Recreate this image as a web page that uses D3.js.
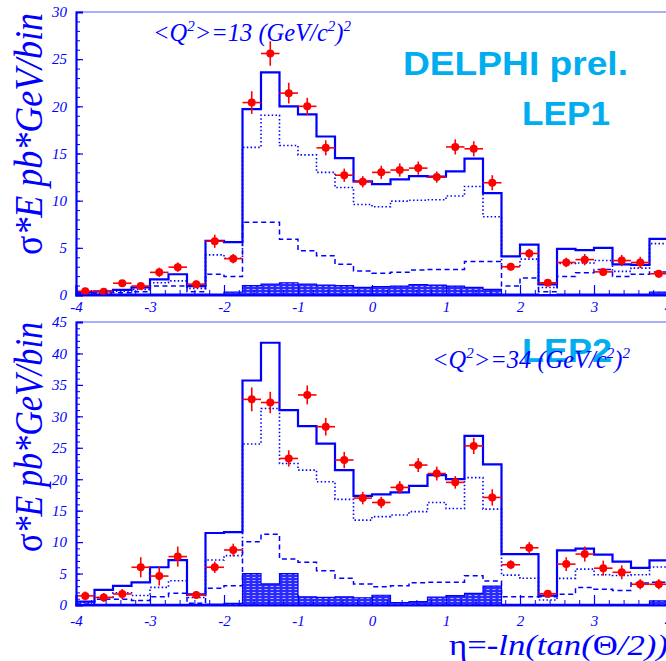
<!DOCTYPE html>
<html>
<head>
<meta charset="utf-8">
<script src="https://cdn.jsdelivr.net/npm/d3@7/dist/d3.min.js"></script>
<style>
  html, body { margin: 0; padding: 0; background: #fff; }
  svg { display: block; }
</style>
</head>
<body>
<svg id="chart" width="666" height="661"></svg>
<script>
// Pseudorapidity bin edges (0.25 wide, -4 .. 4)
const etaEdges = [-4, -3.75, -3.5, -3.25, -3, -2.75, -2.5, -2.25, -2, -1.75, -1.5, -1.25, -1, -0.75, -0.5, -0.25,
                  0, 0.25, 0.5, 0.75, 1, 1.25, 1.5, 1.75, 2, 2.25, 2.5, 2.75, 3, 3.25, 3.5, 3.75, 4];

// LEP1, <Q^2> = 13 (GeV/c^2)^2
const lep1Data = [0.4, 0.35, 1.25, 0.95, 2.4, 2.95, 1.15, 5.7, 3.85, 20.4, 25.6, 21.4, 20.0, 15.6, 12.7, 12.0,
                  13.0, 13.25, 13.45, 12.5, 15.7, 15.5, 11.9, 3.0, 4.4, 1.3, 3.45, 3.75, 2.45, 3.65, 3.45, 2.25];
const lep1Err  = [0.3, 0.3, 0.3, 0.3, 0.5, 0.5, 0.4, 0.7, 0.5, 1.2, 1.3, 1.1, 0.9, 0.8, 0.7, 0.6,
                  0.7, 0.7, 0.7, 0.6, 0.8, 0.8, 0.8, 0.4, 0.5, 0.3, 0.5, 0.6, 0.4, 0.6, 0.6, 0.4];
const lep1Total  = [0.3, 0.4, 0.55, 0.8, 1.65, 2.2, 0.95, 5.75, 5.6, 19.7, 23.6, 20.0, 19.15, 16.8, 14.5, 12.05,
                    11.75, 12.25, 12.6, 12.55, 13.1, 14.45, 10.8, 4.1, 5.35, 1.13, 4.9, 4.75, 5.0, 3.25, 3.2, 5.95];
const lep1Dotted = [0.2, 0.2, 0.4, 0.6, 1.3, 1.5, 0.7, 4.25, 3.9, 15.65, 19.05, 15.85, 14.85, 13.0, 11.4, 9.6,
                    9.35, 9.95, 10.05, 10.1, 10.5, 11.5, 8.3, 3.0, 3.8, 0.8, 3.35, 3.4, 3.65, 2.5, 2.85, 5.45];
const lep1Dashed = [0.2, 0.25, 0.25, 0.35, 0.95, 0.95, 0.35, 2.2, 1.95, 7.7, 7.7, 5.9, 4.7, 4.15, 3.25, 2.55,
                    2.3, 2.4, 2.65, 2.7, 2.7, 3.55, 3.55, 0.95, 1.8, 0.35, 1.95, 2.35, 2.7, 1.95, 2.2, 2.45];
const lep1Hatched = [0.1, 0.1, 0.1, 0.1, 0.1, 0.1, 0.1, 0.1, 0.3, 1.0, 1.15, 1.3, 1.15, 1.05, 1.0, 0.8,
                     0.9, 0.95, 1.1, 1.05, 0.95, 0.8, 0.6, 0.1, 0.1, 0.05, 0.1, 0.1, 0.1, 0.1, 0.1, 0.3];

// LEP2, <Q^2> = 34 (GeV/c^2)^2
const lep2Data = [1.45, 1.2, 1.75, 6.0, 4.6, 7.7, 1.6, 6.0, 8.75, 32.7, 32.2, 23.3, 33.4, 28.35, 23.05, 17.0,
                  16.3, 18.7, 22.25, 20.9, 19.5, 25.3, 17.1, 6.4, 9.1, 1.8, 6.5, 8.1, 5.85, 5.2, 3.3, 3.3];
const lep2Err  = [0.7, 0.7, 0.8, 1.6, 1.5, 1.6, 0.6, 0.9, 1.0, 1.9, 1.7, 1.3, 1.5, 1.4, 1.3, 1.0,
                  0.9, 1.0, 1.1, 1.1, 1.0, 1.3, 1.3, 0.7, 0.9, 0.4, 1.1, 1.2, 1.2, 1.1, 0.8, 0.8];
const lep2Total  = [0.55, 2.4, 3.05, 3.6, 6.0, 7.15, 1.7, 11.45, 11.6, 35.7, 41.7, 31.0, 28.45, 25.65, 21.45, 17.35,
                    17.6, 17.9, 18.95, 20.65, 20.0, 26.9, 22.35, 8.1, 8.1, 1.5, 8.7, 8.95, 8.0, 6.9, 5.9, 7.1];
const lep2Dotted = [0.4, 1.2, 1.95, 1.5, 2.8, 3.85, 1.2, 7.15, 7.85, 25.6, 31.25, 22.5, 21.45, 19.6, 16.8, 13.5,
                    14.05, 14.3, 14.85, 16.3, 15.35, 20.25, 15.25, 4.75, 4.25, 0.8, 4.24, 5.7, 4.8, 4.7, 4.8, 6.05];
const lep2Dashed = [0.16, 0.9, 0.9, 0.7, 1.3, 1.85, 0.26, 2.65, 3.05, 10.05, 11.25, 7.3, 6.8, 5.45, 4.25, 3.35,
                    2.9, 3.05, 3.55, 3.6, 3.6, 4.65, 3.8, 1.3, 1.3, 1.3, 1.7, 2.8, 2.5, 2.3, 3.5, 3.6];
const lep2Hatched = [0.1, 0.1, 0.1, 0.1, 0.1, 0.1, 0.1, 0.15, 0.25, 5.0, 3.35, 5.0, 1.3, 1.2, 1.3, 1.15,
                     1.55, 0.4, 0.55, 1.25, 1.5, 1.85, 3.0, 0.1, 0.1, 0.1, 0.1, 0.1, 0.1, 0.1, 0.1, 0.65];

// Axis ticks
const xMajorTicks = [-4, -3, -2, -1, 0, 1, 2, 3, 4];
const xMinorTicks = [-3.8, -3.6, -3.4, -3.2, -2.8, -2.6, -2.4, -2.2, -1.8, -1.6, -1.4, -1.2,
                     -0.8, -0.6, -0.4, -0.2, 0.2, 0.4, 0.6, 0.8, 1.2, 1.4, 1.6, 1.8,
                     2.2, 2.4, 2.6, 2.8, 3.2, 3.4, 3.6, 3.8];
const yTopMajor = [0, 5, 10, 15, 20, 25, 30];
const yBotMajor = [0, 5, 10, 15, 20, 25, 30, 35, 40, 45];

const BLUE = "#0000ff";
const RED = "#ff0000";
const CYAN = "#00aeef";
const SERIF = "'Liberation Serif', 'Times New Roman', serif";
const SANS = "'Liberation Sans', Arial, sans-serif";

const svg = d3.select("#chart");

// Hatch fill for the lowest component
const defs = svg.append("defs");
const pat = defs.append("pattern").attr("id", "hatch")
  .attr("patternUnits", "userSpaceOnUse").attr("width", 6).attr("height", 3);
pat.append("rect").attr("width", 6).attr("height", 3).attr("fill", "#2a2aff");
pat.append("line").attr("x1", 0.5).attr("x2", 3.5).attr("y1", 1.5).attr("y2", 1.5)
  .attr("stroke", "#c8c8ff").attr("stroke-width", 0.9);

const x = d3.scaleLinear().domain([-4, 4]).range([76, 668]);
const plainNum = d => String(d);

function panel(cfg) {
  const y = d3.scaleLinear().domain([0, cfg.ymax]).range([cfg.y0, cfg.y1]);
  const g = svg.append("g");

  const stepPts = vals => vals.map((v, i) => [etaEdges[i], v]).concat([[etaEdges[vals.length], vals[vals.length - 1]]]);
  const line = d3.line().x(d => x(d[0])).y(d => y(d[1])).curve(d3.curveStepAfter);
  const area = d3.area().x(d => x(d[0])).y0(y(0)).y1(d => y(d[1])).curve(d3.curveStepAfter);

  // hatched component
  g.append("path").attr("d", area(stepPts(cfg.hatched)))
    .attr("fill", "url(#hatch)").attr("stroke", BLUE).attr("stroke-width", 1.2);
  // dashed component
  g.append("path").attr("d", line(stepPts(cfg.dashed)))
    .attr("fill", "none").attr("stroke", BLUE).attr("stroke-width", 1.5).attr("stroke-dasharray", "5,3.5");
  // dotted component
  g.append("path").attr("d", line(stepPts(cfg.dotted)))
    .attr("fill", "none").attr("stroke", BLUE).attr("stroke-width", 1.6).attr("stroke-dasharray", "1.5,2.3");
  // total
  g.append("path").attr("d", line(stepPts(cfg.total)))
    .attr("fill", "none").attr("stroke", BLUE).attr("stroke-width", 2.2);

  // data points with error bars
  const centres = cfg.data.map((v, i) => (etaEdges[i] + etaEdges[i + 1]) / 2);
  const pts = g.append("g");
  cfg.data.forEach((v, i) => {
    pts.append("line").attr("x1", x(etaEdges[i])).attr("x2", x(etaEdges[i + 1]))
      .attr("y1", y(v)).attr("y2", y(v)).attr("stroke", RED).attr("stroke-width", 1.6);
    pts.append("line").attr("x1", x(centres[i])).attr("x2", x(centres[i]))
      .attr("y1", y(v - cfg.err[i])).attr("y2", y(v + cfg.err[i])).attr("stroke", RED).attr("stroke-width", 1.6);
    pts.append("circle").attr("cx", x(centres[i])).attr("cy", y(v)).attr("r", 4).attr("fill", RED);
  });

  // frame
  g.append("line").attr("x1", 76).attr("x2", 668).attr("y1", cfg.y1).attr("y2", cfg.y1)
    .attr("stroke", "#5a5aff").attr("stroke-width", 1);

  // x axis
  const xa = g.append("g").attr("transform", `translate(0,${cfg.y0})`)
    .call(d3.axisBottom(x).tickValues(xMajorTicks).tickSize(-10).tickPadding(cfg.xPad).tickFormat(plainNum));
  xa.selectAll(".tick line").attr("stroke", BLUE).attr("stroke-width", 1.2);
  g.append("g").attr("transform", `translate(0,${cfg.y0})`)
    .call(d3.axisBottom(x).tickValues(xMinorTicks).tickSize(-5).tickFormat(""))
    .call(s => s.select(".domain").remove())
    .selectAll(".tick line").attr("stroke", BLUE).attr("stroke-width", 1);
  xa.select(".domain").attr("stroke", BLUE).attr("stroke-width", 2.2);

  // y axis
  const ya = g.append("g").attr("transform", "translate(76,0)")
    .call(d3.axisLeft(y).tickValues(cfg.yMajor).tickSize(-7).tickPadding(9).tickFormat(plainNum));
  ya.selectAll(".tick line").attr("stroke", BLUE).attr("stroke-width", 1.2);
  ya.select(".domain").attr("stroke", BLUE).attr("stroke-width", 2.2);
  g.append("g").attr("transform", "translate(76,0)")
    .call(d3.axisLeft(y).ticks(cfg.ymax).tickSize(-4).tickFormat(""))
    .call(s => s.select(".domain").remove())
    .selectAll(".tick line").attr("stroke", BLUE).attr("stroke-width", 1);

  g.selectAll(".tick text").attr("fill", BLUE).attr("font-family", SERIF)
    .attr("font-style", "italic").attr("font-size", 15);

  // y title
  const yt = g.append("text")
    .attr("transform", `translate(42,${cfg.titleY}) rotate(-90)`)
    .attr("text-anchor", "middle").attr("fill", BLUE)
    .attr("font-family", SERIF).attr("font-size", 40)
    .attr("textLength", cfg.titleLen).attr("lengthAdjust", "spacingAndGlyphs");
  yt.append("tspan").text("σ");
  yt.append("tspan").attr("font-style", "italic").text("*E pb*GeV/bin");

  return g;
}

function q2Label(xPos, yPos, value) {
  const t = svg.append("text").attr("x", xPos).attr("y", yPos).attr("fill", BLUE)
    .attr("font-family", SERIF).attr("font-style", "italic").attr("font-size", 24.5);
  t.append("tspan").text("<Q");
  t.append("tspan").attr("font-size", 15).attr("dy", -10).text("2");
  t.append("tspan").attr("dy", 10).text(`>=${value} (GeV/c`);
  t.append("tspan").attr("font-size", 15).attr("dy", -10).text("2");
  t.append("tspan").attr("dy", 10).text(")");
  t.append("tspan").attr("font-size", 15).attr("dy", -10).text("2");
}

function bigLabel(xPos, yPos, text, len) {
  const t = svg.append("text").attr("x", xPos).attr("y", yPos).attr("fill", CYAN)
    .attr("font-family", SANS).attr("font-weight", "bold").attr("font-size", 34).text(text);
  if (len) t.attr("textLength", len).attr("lengthAdjust", "spacingAndGlyphs");
}

// LEP1 panel
panel({ y0: 295, y1: 12, ymax: 30, yMajor: yTopMajor, xPad: 6, titleY: 134, titleLen: 242,
        data: lep1Data, err: lep1Err, total: lep1Total, dotted: lep1Dotted, dashed: lep1Dashed, hatched: lep1Hatched });
q2Label(153, 41, 13);
bigLabel(403, 75, "DELPHI prel.", 225);
bigLabel(522, 125, "LEP1", 88);

// LEP2 panel
panel({ y0: 605, y1: 322, ymax: 45, yMajor: yBotMajor, xPad: 10, titleY: 437, titleLen: 230,
        data: lep2Data, err: lep2Err, total: lep2Total, dotted: lep2Dotted, dashed: lep2Dashed, hatched: lep2Hatched });
bigLabel(522, 362, "LEP2", 90);
q2Label(432, 368, 34);

// x title (wide serif, runs past the right edge)
const xt = svg.append("text").attr("x", 449).attr("y", 655).attr("fill", BLUE)
  .attr("font-family", SERIF).attr("font-size", 30)
  .attr("textLength", 219).attr("lengthAdjust", "spacingAndGlyphs");
xt.append("tspan").text("η=");
xt.append("tspan").attr("font-style", "italic").text("-ln(tan(");
xt.append("tspan").text("Θ");
xt.append("tspan").attr("font-style", "italic").text("/2))");
</script>
</body>
</html>
